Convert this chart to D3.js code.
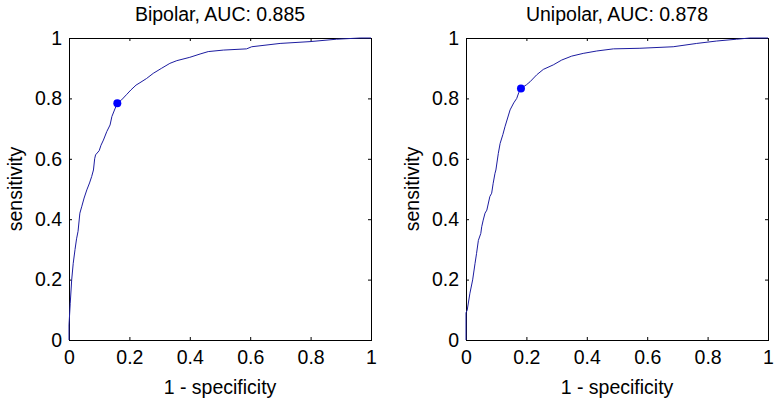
<!DOCTYPE html>
<html>
<head>
<meta charset="utf-8">
<script src="https://cdn.jsdelivr.net/npm/d3@7"></script>
<style>
  html, body { margin: 0; padding: 0; background: #fff; }
  svg { display: block; font-family: "Liberation Sans", Arial, Helvetica, sans-serif; }
</style>
</head>
<body>
<div id="chart"></div>
<script>
// ROC curves (x = 1 - specificity, y = sensitivity)
const BIPOLAR_FPR = [0, 0, 0.004, 0.009, 0.014, 0.02, 0.025, 0.03, 0.036, 0.042, 0.05, 0.059, 0.068, 0.075, 0.081, 0.085, 0.088, 0.1, 0.106, 0.114, 0.125, 0.136, 0.142, 0.152, 0.16, 0.174, 0.19, 0.205, 0.222, 0.235, 0.257, 0.279, 0.307, 0.334, 0.357, 0.4, 0.434, 0.461, 0.511, 0.588, 0.605, 0.699, 0.798, 0.886, 0.964, 1]
const BIPOLAR_TPR = [0, 0.05, 0.12, 0.2, 0.254, 0.3, 0.335, 0.36, 0.42, 0.441, 0.47, 0.497, 0.52, 0.541, 0.563, 0.6, 0.613, 0.627, 0.645, 0.662, 0.69, 0.712, 0.74, 0.765, 0.784, 0.795, 0.812, 0.828, 0.844, 0.852, 0.866, 0.883, 0.9, 0.916, 0.925, 0.936, 0.947, 0.955, 0.96, 0.964, 0.971, 0.982, 0.988, 0.996, 1, 1]

const UNIPOLAR_FPR = [0, 0, 0.004, 0.013, 0.022, 0.03, 0.035, 0.041, 0.049, 0.052, 0.057, 0.063, 0.069, 0.079, 0.085, 0.09, 0.096, 0.099, 0.107, 0.113, 0.122, 0.129, 0.146, 0.158, 0.168, 0.175, 0.182, 0.2, 0.212, 0.234, 0.256, 0.289, 0.317, 0.35, 0.388, 0.433, 0.488, 0.576, 0.686, 0.764, 0.83, 0.896, 0.94, 1]
const UNIPOLAR_TPR = [0, 0.09, 0.099, 0.155, 0.199, 0.254, 0.287, 0.33, 0.353, 0.375, 0.397, 0.42, 0.43, 0.475, 0.486, 0.519, 0.552, 0.563, 0.618, 0.651, 0.68, 0.706, 0.762, 0.785, 0.8, 0.82, 0.833, 0.845, 0.855, 0.878, 0.896, 0.911, 0.927, 0.94, 0.949, 0.957, 0.964, 0.966, 0.971, 0.982, 0.99, 0.996, 1, 1]

// operating points (marker)
const BIPOLAR_POINT = [0.16, 0.784]
const UNIPOLAR_POINT = [0.182, 0.833]

const TITLES = ['Bipolar, AUC: 0.885', 'Unipolar, AUC: 0.878']
const TICKS = [0, 0.2, 0.4, 0.6, 0.8, 1]
const X_LABEL = '1 - specificity'
const Y_LABEL = 'sensitivity'

const panels = [
  { title: TITLES[0], fpr: BIPOLAR_FPR, tpr: BIPOLAR_TPR, point: BIPOLAR_POINT, left: 69 },
  { title: TITLES[1], fpr: UNIPOLAR_FPR, tpr: UNIPOLAR_TPR, point: UNIPOLAR_POINT, left: 466 }
]

const width = 778
const height = 406
const plotTop = 38
const size = 302
const fontSize = '19.5px'
const lineColor = '#1c1ca0'
const markColor = '#0000ff'

const svg = d3.select('#chart')
  .append('svg')
  .attr('width', width)
  .attr('height', height)

const fmt = d => String(d)

panels.forEach(p => {
  const x = d3.scaleLinear().domain([0, 1]).range([p.left, p.left + size])
  const y = d3.scaleLinear().domain([0, 1]).range([plotTop + size, plotTop])

  const g = svg.append('g')

  // Axes (ticks point inward)
  const styleAxis = sel => {
    sel.select('.domain').remove()
    sel.selectAll('line').attr('stroke', '#000')
    sel.selectAll('text').attr('fill', '#000').attr('font-size', fontSize)
    sel.attr('font-family', null).attr('font-size', null)
  }

  g.append('g')
    .attr('transform', `translate(0,${plotTop + size})`)
    .call(d3.axisBottom(x).tickValues(TICKS).tickFormat(fmt).tickSize(-3).tickPadding(10))
    .call(styleAxis)

  g.append('g')
    .attr('transform', `translate(${p.left},0)`)
    .call(d3.axisLeft(y).tickValues(TICKS).tickFormat(fmt).tickSize(-3).tickPadding(7))
    .call(styleAxis)

  g.append('g')
    .attr('transform', `translate(0,${plotTop})`)
    .call(d3.axisTop(x).tickValues(TICKS).tickFormat('').tickSize(-3))
    .call(styleAxis)

  g.append('g')
    .attr('transform', `translate(${p.left + size},0)`)
    .call(d3.axisRight(y).tickValues(TICKS).tickFormat('').tickSize(-3))
    .call(styleAxis)

  // Box
  g.append('rect')
    .attr('x', x(0) + 0.5)
    .attr('y', y(1) + 0.5)
    .attr('width', x(1) - x(0))
    .attr('height', y(0) - y(1))
    .attr('fill', 'none')
    .attr('stroke', '#000')
    .attr('stroke-width', 1)

  // ROC curve
  const pts = p.fpr.map((f, i) => ({ f, t: p.tpr[i] }))
  const line = d3.line().x(d => x(d.f)).y(d => y(d.t))
  g.append('path')
    .datum(pts)
    .attr('fill', 'none')
    .attr('stroke', lineColor)
    .attr('stroke-width', 1)
    .attr('d', line)

  g.append('circle')
    .attr('cx', x(p.point[0]))
    .attr('cy', y(p.point[1]))
    .attr('r', 4)
    .attr('fill', markColor)

  // Title
  g.append('text')
    .attr('x', (x(0) + x(1)) / 2)
    .attr('y', 21)
    .attr('text-anchor', 'middle')
    .attr('font-size', fontSize)
    .attr('fill', '#000')
    .text(p.title)

  // X label
  g.append('text')
    .attr('x', (x(0) + x(1)) / 2)
    .attr('y', 394)
    .attr('text-anchor', 'middle')
    .attr('font-size', fontSize)
    .attr('fill', '#000')
    .text(X_LABEL)

  // Y label
  g.append('text')
    .attr('transform', `translate(${p.left - 47},${(y(0) + y(1)) / 2}) rotate(-90)`)
    .attr('text-anchor', 'middle')
    .attr('font-size', fontSize)
    .attr('fill', '#000')
    .text(Y_LABEL)
})
</script>
</body>
</html>
